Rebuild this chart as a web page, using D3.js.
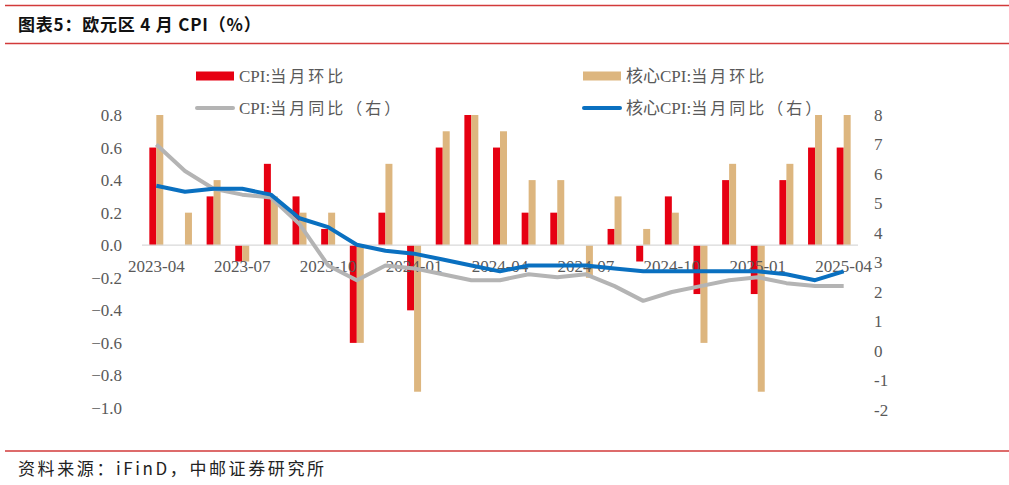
<!DOCTYPE html>
<html>
<head>
<meta charset="utf-8">
<script src="https://cdn.jsdelivr.net/npm/d3@7"></script>
<style>
  body { margin: 0; background: #fff; }
  svg { display: block; }
</style>
</head>
<body>
<svg id="chart" width="1009" height="485"></svg>
<script>
// months, 2023-04 .. 2025-04
var months = ["2023-04","2023-05","2023-06","2023-07","2023-08","2023-09","2023-10","2023-11","2023-12",
  "2024-01","2024-02","2024-03","2024-04","2024-05","2024-06","2024-07","2024-08","2024-09","2024-10",
  "2024-11","2024-12","2025-01","2025-02","2025-03","2025-04"];
var tickMonths = ["2023-04","2023-07","2023-10","2024-01","2024-04","2024-07","2024-10","2025-01","2025-04"];

// left axis: month-on-month (%)
var cpiMoM  = [0.6, 0.0, 0.3, -0.1, 0.5, 0.3, 0.1, -0.6, 0.2, -0.4, 0.6, 0.8, 0.6, 0.2, 0.2, 0.0, 0.1, -0.1, 0.3, -0.3, 0.4, -0.3, 0.4, 0.6, 0.6];
var coreMoM = [0.8, 0.2, 0.4, -0.1, 0.3, 0.2, 0.2, -0.6, 0.5, -0.9, 0.7, 0.8, 0.7, 0.4, 0.4, -0.2, 0.3, 0.1, 0.2, -0.6, 0.5, -0.9, 0.5, 0.8, 0.8];

// right axis: year-on-year (%)
var cpiYoY  = [7.0, 6.1, 5.5, 5.3, 5.2, 4.3, 2.9, 2.4, 2.9, 2.8, 2.6, 2.4, 2.4, 2.6, 2.5, 2.6, 2.2, 1.7, 2.0, 2.2, 2.4, 2.5, 2.3, 2.2, 2.2];
var coreYoY = [5.6, 5.4, 5.5, 5.5, 5.3, 4.5, 4.2, 3.6, 3.4, 3.3, 3.1, 2.9, 2.7, 2.9, 2.9, 2.9, 2.8, 2.7, 2.7, 2.7, 2.7, 2.7, 2.6, 2.4, 2.7];

var leftTicks  = [0.8, 0.6, 0.4, 0.2, 0.0, -0.2, -0.4, -0.6, -0.8, -1.0];
var rightTicks = [8, 7, 6, 5, 4, 3, 2, 1, 0, -1, -2];

var red = "#e60012", tan = "#ddb67f", grey = "#b4b4b4", blue = "#0a70c0", lineRed = "#d23a3a";
var serif = "'Liberation Serif','Times New Roman','Noto Sans CJK SC',serif";

var svg = d3.select("#chart");

// page frame: title rules and source
svg.append("line").attr("x1", 5).attr("x2", 1009).attr("y1", 5.5).attr("y2", 5.5)
  .attr("stroke", lineRed).attr("stroke-width", 1.5);
svg.append("line").attr("x1", 5).attr("x2", 1009).attr("y1", 43.5).attr("y2", 43.5)
  .attr("stroke", lineRed).attr("stroke-width", 1.5);
svg.append("line").attr("x1", 5).attr("x2", 1009).attr("y1", 451).attr("y2", 451)
  .attr("stroke", lineRed).attr("stroke-width", 1.5);

svg.append("text").attr("x", 18).attr("y", 31)
  .style("font-family", "'Noto Sans CJK SC',sans-serif").style("font-weight", "bold")
  .style("font-size", "17px").style("letter-spacing", "0.8px").attr("fill", "#111")
  .text("图表5：欧元区 4 月 CPI（%）");

svg.append("text").attr("x", 18).attr("y", 475)
  .style("font-family", "'Noto Sans CJK SC',sans-serif").style("font-size", "17px")
  .style("letter-spacing", "2.6px").attr("fill", "#222")
  .text("资料来源：iFinD，中邮证券研究所");

// scales
var x = d3.scaleBand().domain(months).range([142, 858]);
var xs = d3.scaleBand().domain(["cpi", "core"]).range([0, x.bandwidth()]).paddingInner(0).paddingOuter(1.05);
var yL = d3.scaleLinear().domain([-1.0, 0.8]).range([408, 115]);
var yR = d3.scaleLinear().domain([-2, 8]).range([410, 115]);

// left tick labels
svg.append("g").selectAll("text").data(leftTicks).enter().append("text")
  .attr("x", 122).attr("y", function(d) { return yL(d); }).attr("dy", "0.35em")
  .attr("text-anchor", "end").style("font-family", serif).style("font-size", "17px")
  .attr("fill", "#595959").text(function(d) { return d3.format(".1f")(d); });

// right tick labels
svg.append("g").selectAll("text").data(rightTicks).enter().append("text")
  .attr("x", 874).attr("y", function(d) { return yR(d); }).attr("dy", "0.35em")
  .attr("text-anchor", "start").style("font-family", serif).style("font-size", "17px")
  .attr("fill", "#595959").text(function(d) { return d; });

// bars
var bars = svg.append("g");
bars.selectAll(".cpi").data(cpiMoM).enter().append("rect")
  .attr("class", "cpi")
  .attr("x", function(d, i) { return x(months[i]) + xs("cpi"); })
  .attr("width", xs.bandwidth())
  .attr("y", function(d) { return yL(Math.max(0, d)); })
  .attr("height", function(d) { return Math.abs(yL(d) - yL(0)); })
  .attr("fill", red);
bars.selectAll(".core").data(coreMoM).enter().append("rect")
  .attr("class", "core")
  .attr("x", function(d, i) { return x(months[i]) + xs("core"); })
  .attr("width", xs.bandwidth())
  .attr("y", function(d) { return yL(Math.max(0, d)); })
  .attr("height", function(d) { return Math.abs(yL(d) - yL(0)); })
  .attr("fill", tan);

// zero line
svg.append("line").attr("x1", 142).attr("x2", 858).attr("y1", yL(0)).attr("y2", yL(0))
  .attr("stroke", "#d9d9d9").attr("stroke-width", 1.2);

// x labels
svg.append("g").selectAll("text").data(tickMonths).enter().append("text")
  .attr("x", function(d) { return x(d) + x.bandwidth() / 2; })
  .attr("y", 266).attr("dy", "0.35em").attr("text-anchor", "middle")
  .style("font-family", serif).style("font-size", "17px").attr("fill", "#595959")
  .text(function(d) { return d; });

// lines
var line = d3.line()
  .x(function(d, i) { return x(months[i]) + x.bandwidth() / 2; })
  .y(function(d) { return yR(d); });
svg.append("path").datum(cpiYoY).attr("d", line)
  .attr("fill", "none").attr("stroke", grey).attr("stroke-width", 4).attr("stroke-linejoin", "round");
svg.append("path").datum(coreYoY).attr("d", line)
  .attr("fill", "none").attr("stroke", blue).attr("stroke-width", 4).attr("stroke-linejoin", "round");

// legend
var legend = [
  { name: "CPI:", cjk: "当月环比", kind: "bar", color: red, x: 196, y: 76 },
  { name: "核心CPI:", cjk: "当月环比", kind: "bar", color: tan, x: 583, y: 76 },
  { name: "CPI:", cjk: "当月同比（右）", kind: "line", color: grey, x: 196, y: 108 },
  { name: "核心CPI:", cjk: "当月同比（右）", kind: "line", color: blue, x: 583, y: 108 }
];
var lg = svg.append("g").selectAll("g").data(legend).enter().append("g")
  .attr("transform", function(d) { return "translate(" + d.x + "," + d.y + ")"; });
lg.filter(function(d) { return d.kind === "bar"; }).append("rect")
  .attr("x", 0).attr("y", -4.5).attr("width", 38).attr("height", 9)
  .attr("fill", function(d) { return d.color; });
lg.filter(function(d) { return d.kind === "line"; }).append("line")
  .attr("x1", 1).attr("x2", 37).attr("y1", 0).attr("y2", 0)
  .attr("stroke", function(d) { return d.color; }).attr("stroke-width", 4).attr("stroke-linecap", "round");
var lt = lg.append("text").attr("x", 43).attr("y", 0).attr("dy", "0.35em")
  .style("font-family", serif).style("font-size", "17px").attr("fill", "#595959");
lt.append("tspan").text(function(d) { return d.name; });
lt.append("tspan").style("font-family", "'Noto Sans CJK SC',sans-serif").style("font-size", "16px")
  .style("letter-spacing", "3px").text(function(d) { return d.cjk; });
</script>
</body>
</html>
